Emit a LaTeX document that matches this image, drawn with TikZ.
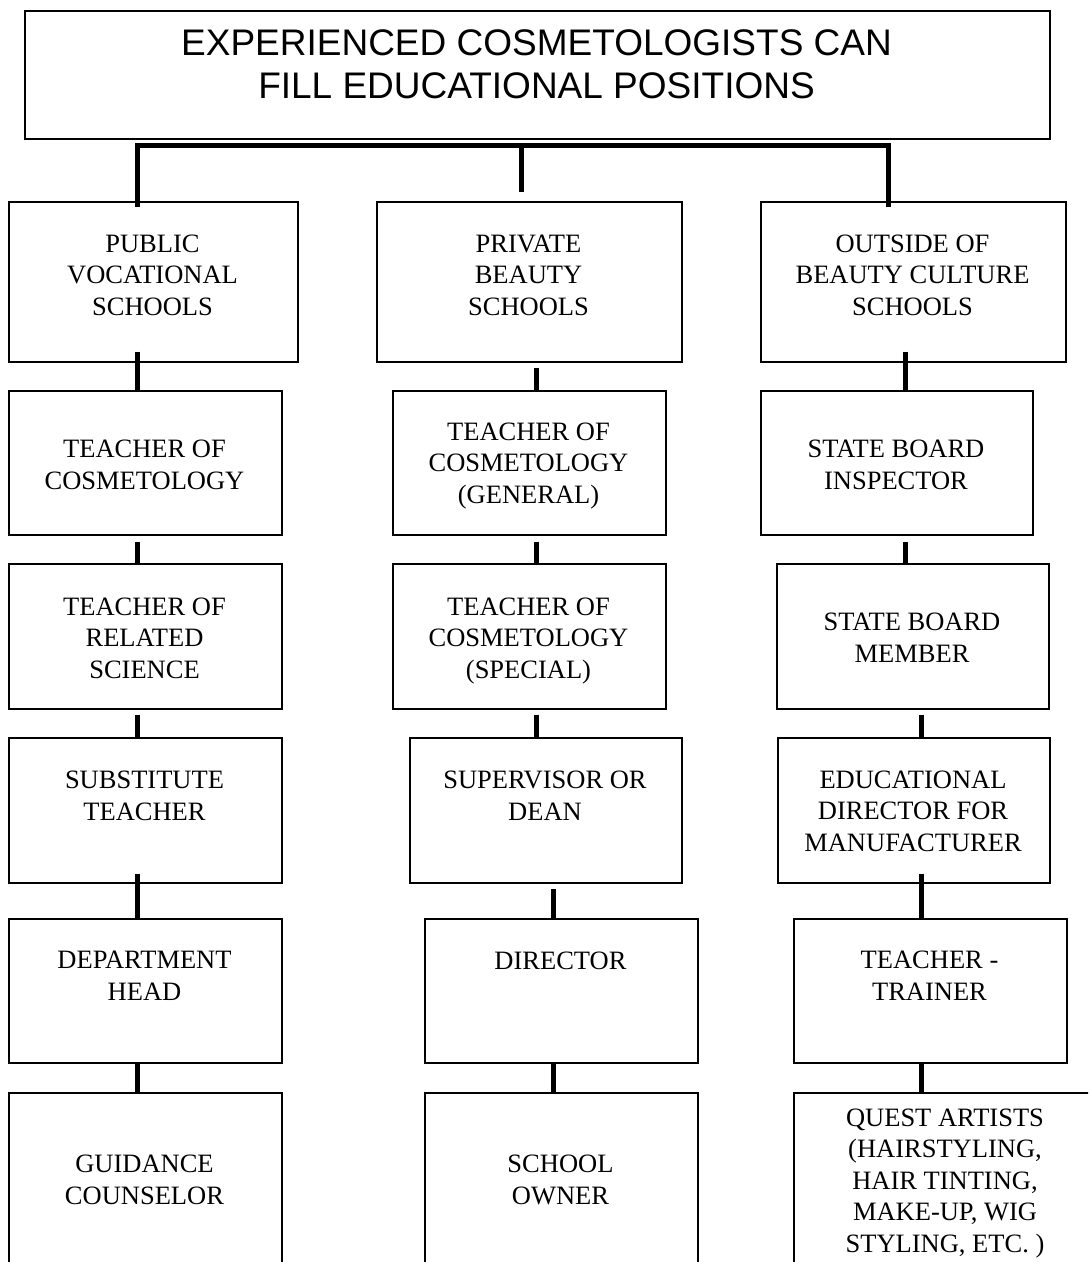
\documentclass[tikz,border=0pt]{standalone}
\usepackage{fontspec}
\setmainfont{Liberation Serif}
\newfontfamily\titlefont{Liberation Sans}
\usetikzlibrary{calc}
\begin{document}
\begin{tikzpicture}[x=1pt,y=-1pt,
  box/.style={draw=black, line width=1.5pt, inner sep=0pt, anchor=north west},
  lbl/.style={anchor=base, align=center, inner sep=0pt, font=\fontsize{26.5}{31.5}\selectfont},
  ttl/.style={anchor=base, align=center, inner sep=0pt, font=\titlefont\fontsize{37}{43}\selectfont},
  conn/.style={line width=5pt, line cap=butt, line join=miter}]
\useasboundingbox (0,0) rectangle (1088,1262);
\clip (0,0) rectangle (1088,1262);
\fill[white] (0,0) rectangle (1088,1262);

% boxes
\node[box, minimum width=1025pt, minimum height=128pt] (title) at (24,10) {};
\node[box, minimum width=289pt, minimum height=160pt] (a1) at (8,201) {};
\node[box, minimum width=273pt, minimum height=144pt] (a2) at (8,390) {};
\node[box, minimum width=273pt, minimum height=145pt] (a3) at (8,563) {};
\node[box, minimum width=273pt, minimum height=145pt] (a4) at (8,737) {};
\node[box, minimum width=273pt, minimum height=144pt] (a5) at (8,918) {};
\node[box, minimum width=273pt, minimum height=200pt] (a6) at (8,1092) {};
\node[box, minimum width=305pt, minimum height=160pt] (b1) at (376,201) {};
\node[box, minimum width=273pt, minimum height=144pt] (b2) at (392,390) {};
\node[box, minimum width=273pt, minimum height=145pt] (b3) at (392,563) {};
\node[box, minimum width=272pt, minimum height=145pt] (b4) at (409,737) {};
\node[box, minimum width=273pt, minimum height=144pt] (b5) at (424,918) {};
\node[box, minimum width=273pt, minimum height=200pt] (b6) at (424,1092) {};
\node[box, minimum width=305pt, minimum height=160pt] (c1) at (760,201) {};
\node[box, minimum width=272pt, minimum height=144pt] (c2) at (760,390) {};
\node[box, minimum width=272pt, minimum height=145pt] (c3) at (776,563) {};
\node[box, minimum width=272pt, minimum height=145pt] (c4) at (777,737) {};
\node[box, minimum width=273pt, minimum height=144pt] (c5) at (793,918) {};
\node[box, minimum width=304pt, minimum height=200pt] (c6) at (793,1092) {};

% texts (anchor = baseline of last line)
\node[ttl] (ttitle) at (536.5,98) {EXPERIENCED COSMETOLOGISTS CAN\\FILL EDUCATIONAL POSITIONS};
\node[lbl] (ta1) at (152.5,315) {PUBLIC\\VOCATIONAL\\SCHOOLS};
\node[lbl] (ta2) at (144.5,489) {TEACHER OF\\COSMETOLOGY};
\node[lbl] (ta3) at (144.5,678) {TEACHER OF\\RELATED\\SCIENCE};
\node[lbl] (ta4) at (144.5,820) {SUBSTITUTE\\TEACHER};
\node[lbl] (ta5) at (144.5,1000) {DEPARTMENT\\HEAD};
\node[lbl] (ta6) at (144.5,1204) {GUIDANCE\\COUNSELOR};
\node[lbl] (tb1) at (528.5,315) {PRIVATE\\BEAUTY\\SCHOOLS};
\node[lbl] (tb2) at (528.5,503) {TEACHER OF\\COSMETOLOGY\\(GENERAL)};
\node[lbl] (tb3) at (528.5,678) {TEACHER OF\\COSMETOLOGY\\(SPECIAL)};
\node[lbl] (tb4) at (545,820) {SUPERVISOR OR\\DEAN};
\node[lbl] (tb5) at (560.5,969) {DIRECTOR};
\node[lbl] (tb6) at (560.5,1204) {SCHOOL\\OWNER};
\node[lbl] (tc1) at (912.5,315) {OUTSIDE OF\\BEAUTY CULTURE\\SCHOOLS};
\node[lbl] (tc2) at (896,489) {STATE BOARD\\INSPECTOR};
\node[lbl] (tc3) at (912,662) {STATE BOARD\\MEMBER};
\node[lbl] (tc4) at (913,851) {EDUCATIONAL\\DIRECTOR FOR\\MANUFACTURER};
\node[lbl] (tc5) at (929.5,1000) {TEACHER -\\TRAINER};
\node[lbl] (tc6) at (945,1252) {QUEST ARTISTS\\(HAIRSTYLING,\\HAIR TINTING,\\MAKE-UP, WIG\\STYLING, ETC. )};

% connector columns
\coordinate (xa) at (137,0);
\coordinate (xb0) at (521,0);
\coordinate (xb1) at (536,0);
\coordinate (xb2) at (553,0);
\coordinate (xc0) at (888,0);
\coordinate (xc1) at (905,0);
\coordinate (xc2) at (921,0);

% bus
\draw[conn] ($(a1.north -| xa)+(0,6)$) -- ($(title.south -| xa)+(0,6)$)
  -- ($(title.south -| xc0)+(0,6)$) -- ($(c1.north -| xc0)+(0,6)$);
\draw[conn] ($(title.south -| xb0)+(0,6)$) -- ($(b1.north -| xb0)+(0,-9)$);

% column a
\draw[conn] ($(a1.south -| xa)+(0,-11)$) -- (a2.north -| xa);
\draw[conn] ($(a2.south -| xa)+(0,6)$) -- (a3.north -| xa);
\draw[conn] ($(a3.south -| xa)+(0,5)$) -- (a4.north -| xa);
\draw[conn] ($(a4.south -| xa)+(0,-10)$) -- (a5.north -| xa);
\draw[conn] (a5.south -| xa) -- (a6.north -| xa);
% column b
\draw[conn] ($(b1.south -| xb1)+(0,5)$) -- (b2.north -| xb1);
\draw[conn] ($(b2.south -| xb1)+(0,6)$) -- (b3.north -| xb1);
\draw[conn] ($(b3.south -| xb1)+(0,5)$) -- (b4.north -| xb1);
\draw[conn] ($(b4.south -| xb2)+(0,5)$) -- (b5.north -| xb2);
\draw[conn] (b5.south -| xb2) -- (b6.north -| xb2);
% column c
\draw[conn] ($(c1.south -| xc1)+(0,-11)$) -- (c2.north -| xc1);
\draw[conn] ($(c2.south -| xc1)+(0,6)$) -- (c3.north -| xc1);
\draw[conn] ($(c3.south -| xc2)+(0,5)$) -- (c4.north -| xc2);
\draw[conn] ($(c4.south -| xc2)+(0,-10)$) -- (c5.north -| xc2);
\draw[conn] (c5.south -| xc2) -- (c6.north -| xc2);
\end{tikzpicture}
\end{document}
